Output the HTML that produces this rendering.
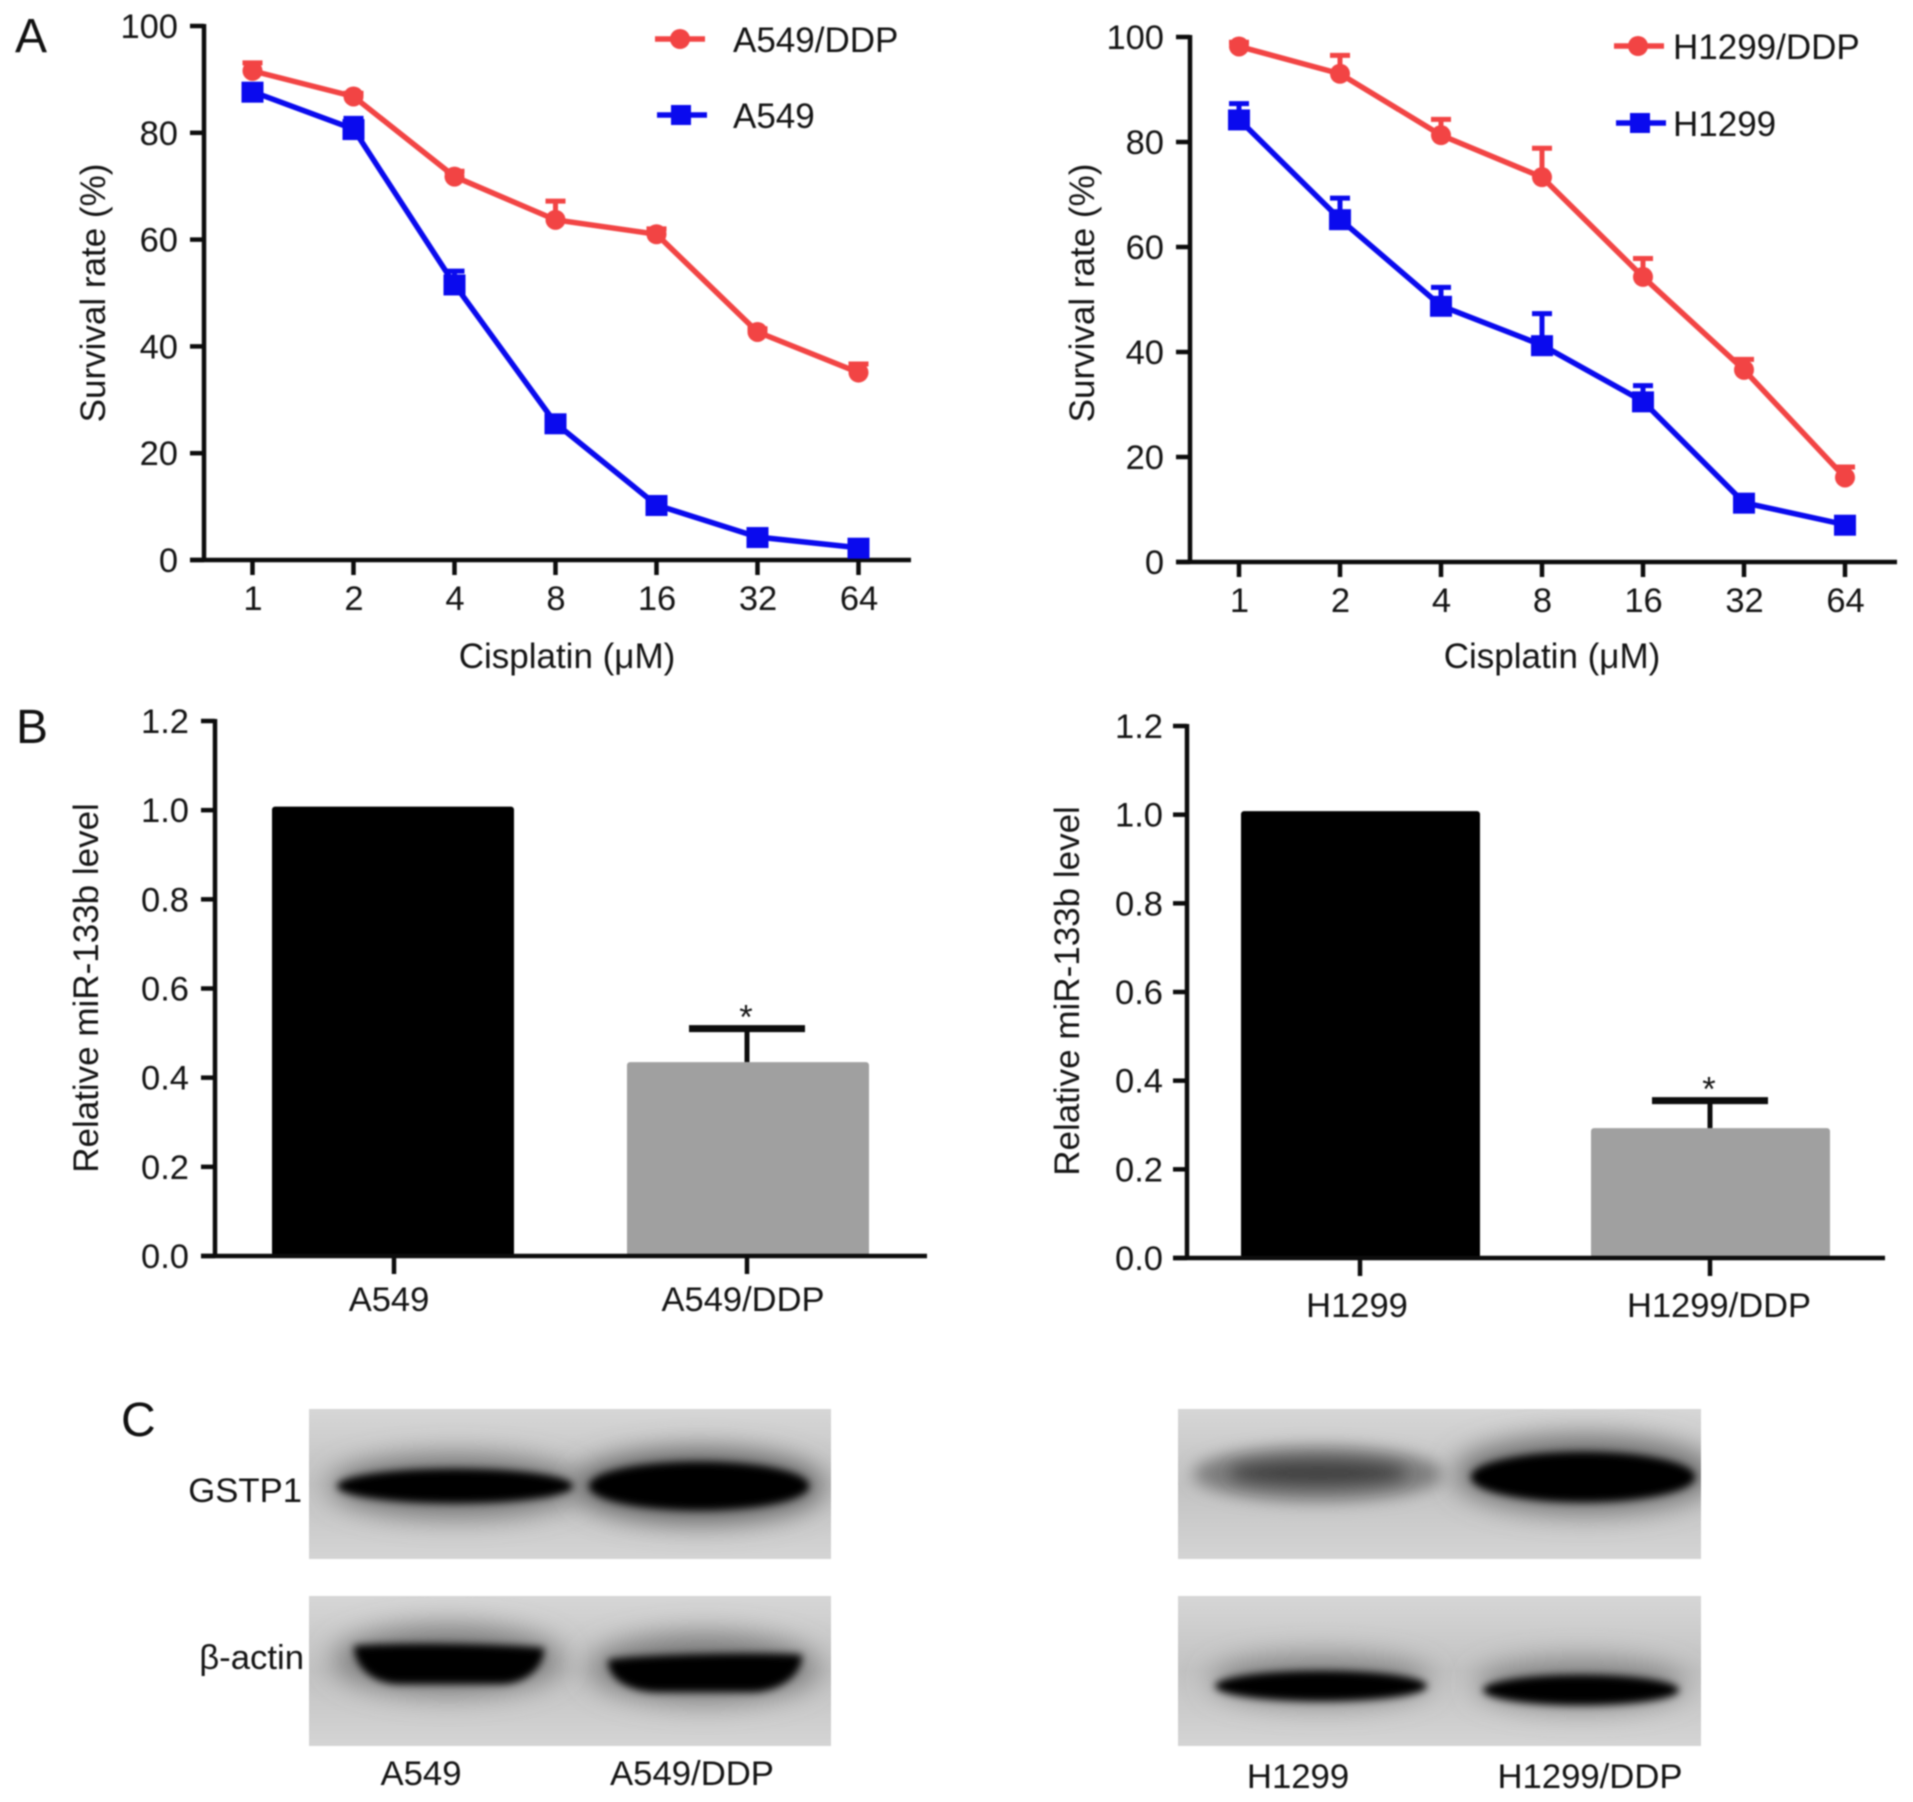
<!DOCTYPE html>
<html lang="en">
<head>
<meta charset="utf-8">
<title>Cisplatin survival, miR-133b levels and GSTP1 western blots</title>
<style>
html,body{margin:0;padding:0;background:#fff;width:1913px;height:1802px;overflow:hidden}
svg{display:block;filter:blur(.9px)}
text{font-family:"Liberation Sans",Arial,sans-serif;fill:#141414}
.t{font-size:35px}
.k{font-size:34.5px}
.p{font-size:48px;fill:#111}
.b{font-size:34.7px}
</style>
</head>
<body>
<svg id="fig" xmlns="http://www.w3.org/2000/svg" width="1913" height="1802" viewBox="0 0 1913 1802">
<defs>
<filter id="blur3" x="-30%" y="-100%" width="160%" height="300%"><feGaussianBlur stdDeviation="4"/></filter>
<filter id="blur14" x="-40%" y="-200%" width="180%" height="500%"><feGaussianBlur stdDeviation="14"/></filter>
<filter id="blur6" x="-30%" y="-100%" width="160%" height="300%"><feGaussianBlur stdDeviation="8"/></filter>
<linearGradient id="blotBg" x1="0" y1="0" x2="0" y2="1"><stop offset="0" stop-color="#d6d6d6"/><stop offset=".5" stop-color="#c2c2c2"/><stop offset="1" stop-color="#d4d4d4"/></linearGradient>
<clipPath id="c1"><rect x="309" y="1409" width="522" height="150"/></clipPath>
<clipPath id="c2"><rect x="309" y="1596" width="522" height="150"/></clipPath>
<clipPath id="c3"><rect x="1178" y="1409" width="523" height="150"/></clipPath>
<clipPath id="c4"><rect x="1178" y="1596" width="523" height="150"/></clipPath>
</defs>

<text class="p" x="15" y="52">A</text>
<text class="p" x="16" y="743">B</text>
<text class="p" x="121" y="1436">C</text>

<g id="chartA1">
<text class="t" transform="translate(105,293) rotate(-90)" text-anchor="middle">Survival rate (%)</text>
<text class="t" x="567" y="668" text-anchor="middle">Cisplatin (μM)</text>
<g>
<line x1="655" x2="705" y1="39" y2="39" stroke="#f24444" stroke-width="5.5"/><circle cx="680" cy="39" r="10" fill="#f24444"/>
<text class="t" x="733" y="52">A549/DDP</text></g>
<g>
<line x1="657" x2="707" y1="115" y2="115" stroke="#0a0aee" stroke-width="5.5"/><rect x="671" y="105" width="20" height="20" fill="#0a0aee"/>
<text class="t" x="733" y="128">A549</text></g>
</g>

<g id="chartA2">
<text class="t" transform="translate(1094,293) rotate(-90)" text-anchor="middle">Survival rate (%)</text>
<text class="t" x="1552" y="668" text-anchor="middle">Cisplatin (μM)</text>
<g>
<line x1="1614" x2="1664" y1="46" y2="46" stroke="#f24444" stroke-width="5.5"/><circle cx="1638" cy="46" r="10" fill="#f24444"/>
<text class="t" x="1673" y="59">H1299/DDP</text></g>
<g>
<line x1="1616" x2="1666" y1="123" y2="123" stroke="#0a0aee" stroke-width="5.5"/><rect x="1630" y="113" width="20" height="20" fill="#0a0aee"/>
<text class="t" x="1673" y="136">H1299</text></g>
</g>

<g id="chartB1">
<text class="t" transform="translate(98,988) rotate(-90)" text-anchor="middle">Relative miR-133b level</text>
</g>
<g id="chartB2">
<text class="t" transform="translate(1079,991) rotate(-90)" text-anchor="middle">Relative miR-133b level</text>
</g>

<g>
<g clip-path="url(#c1)">
<rect x="309" y="1409" width="522" height="150" fill="url(#blotBg)"/>
<ellipse cx="455" cy="1486" rx="125" ry="30" fill="#6e6e6e" filter="url(#blur14)"/>
<ellipse cx="699" cy="1486" rx="125" ry="36" fill="#5c5c5c" filter="url(#blur14)"/>
<ellipse cx="455" cy="1486" rx="118" ry="17" fill="#000" filter="url(#blur3)"/>
<ellipse cx="699" cy="1486" rx="110" ry="24" fill="#000" filter="url(#blur3)"/>
</g>
<g clip-path="url(#c2)">
<rect x="309" y="1596" width="522" height="150" fill="url(#blotBg)"/>
<ellipse cx="448" cy="1660" rx="115" ry="34" fill="#7a7a7a" filter="url(#blur14)"/>
<ellipse cx="704" cy="1668" rx="115" ry="34" fill="#7a7a7a" filter="url(#blur14)"/>
<path d="M354 1646 C400 1642 500 1644 544 1648 C544 1668 525 1684 500 1684 L400 1684 C372 1684 354 1666 354 1646 Z" fill="#000" filter="url(#blur3)"/>
<path d="M608 1660 C640 1654 770 1652 802 1655 C802 1675 780 1692 750 1692 L660 1692 C630 1692 608 1680 608 1660 Z" fill="#000" filter="url(#blur3)"/>
</g>
</g>
<g>
<g clip-path="url(#c3)">
<rect x="1178" y="1409" width="523" height="150" fill="url(#blotBg)"/>
<ellipse cx="1318" cy="1474" rx="125" ry="28" fill="#7e7e7e" filter="url(#blur6)"/>
<ellipse cx="1318" cy="1473" rx="90" ry="13" fill="#404040" filter="url(#blur6)"/>
<ellipse cx="1585" cy="1474" rx="130" ry="38" fill="#6c6c6c" filter="url(#blur14)"/>
<ellipse cx="1583" cy="1477" rx="112" ry="25" fill="#000" filter="url(#blur3)"/>
</g>
<g clip-path="url(#c4)">
<rect x="1178" y="1596" width="523" height="150" fill="url(#blotBg)"/>
<ellipse cx="1321" cy="1680" rx="110" ry="24" fill="#808080" filter="url(#blur14)"/>
<ellipse cx="1581" cy="1684" rx="105" ry="24" fill="#808080" filter="url(#blur14)"/>
<ellipse cx="1321" cy="1686" rx="106" ry="15" fill="#000" filter="url(#blur3)"/>
<ellipse cx="1581" cy="1690" rx="98" ry="15" fill="#000" filter="url(#blur3)"/>
</g>
</g>
<text class="b" x="302" y="1502" text-anchor="end">GSTP1</text>
<text class="b" x="304" y="1669" text-anchor="end" style='font-family:"Liberation Sans","DejaVu Sans",sans-serif'>β-actin</text>
<text class="b" x="421" y="1785" text-anchor="middle">A549</text>
<text class="b" x="692" y="1785" text-anchor="middle">A549/DDP</text>
<text class="b" x="1298" y="1788" text-anchor="middle">H1299</text>
<text class="b" x="1590" y="1788" text-anchor="middle">H1299/DDP</text>
</svg>

<script>
const doseLabels = ['1','2','4','8','16','32','64'];
const survivalTicks = [0,20,40,60,80,100];
const a549DdpValues = [91.6,86.8,71.8,63.7,61,42.7,35.1];
const a549DdpErrors = [1.5,0.6,1,3.5,1,0.6,1.6];
const a549Values = [87.7,80.7,51.6,25.6,10.3,4.3,2.3];
const a549Errors = [1,2,2.5,1,1,1,1];
const h1299DdpValues = [98.2,93,81.3,73.3,54.3,36.6,16.1];
const h1299DdpErrors = [0.8,3.5,3,5.5,3.5,2,2];
const h1299Values = [84.3,65.3,48.8,41.3,30.6,11.3,7.1];
const h1299Errors = [3,4,3.5,6,3,1,1];
const relativeTicks = ['0.0','0.2','0.4','0.6','0.8','1.0','1.2'];
const a549BarLabels = ['A549','A549/DDP'];
const a549BarValues = [1.008,0.435];
const a549BarErrors = [0,0.075];
const h1299BarLabels = ['H1299','H1299/DDP'];
const h1299BarValues = [1.008,0.293];
const h1299BarErrors = [0,0.062];

const NS = 'http://www.w3.org/2000/svg';
const RED = '#f24444', BLUE = '#0a0aee', INK = '#0c0c0c';

function make(parent, tag, name) {
  const el = document.createElementNS(NS, tag);
  
  
  parent.appendChild(el);
  return el;
}
function line(parent, name, x1, y1, x2, y2, color, w) {
  const el = make(parent, 'line', name);
  el.setAttribute('x1', x1); el.setAttribute('y1', y1);
  el.setAttribute('x2', x2); el.setAttribute('y2', y2);
  el.setAttribute('stroke', color); el.setAttribute('stroke-width', w);
  return el;
}
function label(parent, name, x, y, str, anchor) {
  const el = make(parent, 'text', name);
  el.setAttribute('x', x); el.setAttribute('y', y);
  el.setAttribute('text-anchor', anchor);
  el.setAttribute('class', 'k');
  el.textContent = str;
  return el;
}
function yAxis(g, box, ticks, max) {
  const y = v => box.y0 - (v / max) * (box.y0 - box.yTop);
  line(g, 'y-axis-line', box.x0, y(max) - 2, box.x0, box.y0 + 2, INK, 4.5);
  ticks.forEach(t => {
    const v = parseFloat(t);
    line(g, 'y-tick', box.x0 - 14, y(v), box.x0, y(v), INK, 4.5);
    label(g, 'y-tick-label', box.x0 - box.gap, y(v) + 12, String(t), 'end');
  });
  return y;
}
function lineChart(id, box, series) {
  const g = document.getElementById(id);
  const y = yAxis(g, box, survivalTicks, 100);
  const x = i => box.xFirst + i * (box.xLast - box.xFirst) / (doseLabels.length - 1);
  line(g, 'x-axis-line', box.x0 - 14, box.y0, box.xEnd, box.y0, INK, 4.5);
  doseLabels.forEach((d, i) => {
    line(g, 'x-tick', x(i), box.y0, x(i), box.y0 + 15, INK, 4.5);
    label(g, 'x-tick-label', x(i) + 0.5, box.y0 + 50, d, 'middle');
  });
  series.forEach(s => {
    const sg = make(g, 'g', s.name);
    const path = make(sg, 'polyline', s.name + '-line');
    path.setAttribute('points', s.values.map((v, i) => x(i) + ',' + y(v)).join(' '));
    path.setAttribute('fill', 'none');
    path.setAttribute('stroke', s.color);
    path.setAttribute('stroke-width', 5.5);
    s.values.forEach((v, i) => {
      const top = y(v + s.errors[i]);
      line(sg, 'error-bar', x(i), y(v), x(i), top, s.color, 5);
      line(sg, 'error-cap', x(i) - 10, top, x(i) + 10, top, s.color, 5);
      if (s.shape === 'circle') {
        const c = make(sg, 'circle', 'point');
        c.setAttribute('cx', x(i)); c.setAttribute('cy', y(v)); c.setAttribute('r', 10);
        c.setAttribute('fill', s.color);
      } else {
        const r = make(sg, 'rect', 'point');
        r.setAttribute('x', x(i) - 11); r.setAttribute('y', y(v) - 10);
        r.setAttribute('width', 22); r.setAttribute('height', 21);
        r.setAttribute('fill', s.color);
      }
    });
  });
}
function barChart(id, box, labels, values, errors) {
  const g = document.getElementById(id);
  const y = yAxis(g, box, relativeTicks, 1.2);
  const fills = ['#000', '#a0a0a0'];
  values.forEach((v, i) => {
    const bar = make(g, 'rect', 'bar-' + labels[i].toLowerCase().replace('/', '-'));
    bar.setAttribute('x', box.barX[i]);
    bar.setAttribute('y', y(v));
    bar.setAttribute('width', box.barW);
    bar.setAttribute('height', box.y0 - y(v));
    bar.setAttribute('rx', 3);
    bar.setAttribute('fill', fills[i]);
    const cx = box.tickX[i];
    line(g, 'x-tick', cx, box.y0, cx, box.y0 + 18, INK, 4.5);
    label(g, 'x-tick-label', box.labelX[i], box.labelY, labels[i], 'middle');
    if (errors[i] > 0) {
      const top = y(v + errors[i]);
      line(g, 'error-bar', cx, y(v), cx, top, INK, 5);
      line(g, 'error-cap', cx - 58, top, cx + 58, top, INK, 7);
      label(g, 'significance-star', cx - 1, top, '*', 'middle');
    }
  });
  line(g, 'x-axis-line', box.x0 - 14, box.y0, box.xEnd, box.y0, INK, 4.5);
}

lineChart('chartA1', {x0:204, y0:560, yTop:26, gap:26, xFirst:252.5, xLast:858.5, xEnd:911}, [
  {name:'series-a549-ddp', values:a549DdpValues, errors:a549DdpErrors, color:RED, shape:'circle'},
  {name:'series-a549', values:a549Values, errors:a549Errors, color:BLUE, shape:'square'}
]);
lineChart('chartA2', {x0:1190, y0:562, yTop:37, gap:26, xFirst:1239, xLast:1845, xEnd:1897}, [
  {name:'series-h1299-ddp', values:h1299DdpValues, errors:h1299DdpErrors, color:RED, shape:'circle'},
  {name:'series-h1299', values:h1299Values, errors:h1299Errors, color:BLUE, shape:'square'}
]);
barChart('chartB1', {x0:215, y0:1256, yTop:721, gap:26, xEnd:927, barX:[272,627], barW:242, tickX:[394,747], labelX:[389,743], labelY:1311}, a549BarLabels, a549BarValues, a549BarErrors);
barChart('chartB2', {x0:1187, y0:1258, yTop:726, gap:24, xEnd:1885, barX:[1241,1591], barW:239, tickX:[1360,1710], labelX:[1357,1719], labelY:1317}, h1299BarLabels, h1299BarValues, h1299BarErrors);
</script>
</body>
</html>
